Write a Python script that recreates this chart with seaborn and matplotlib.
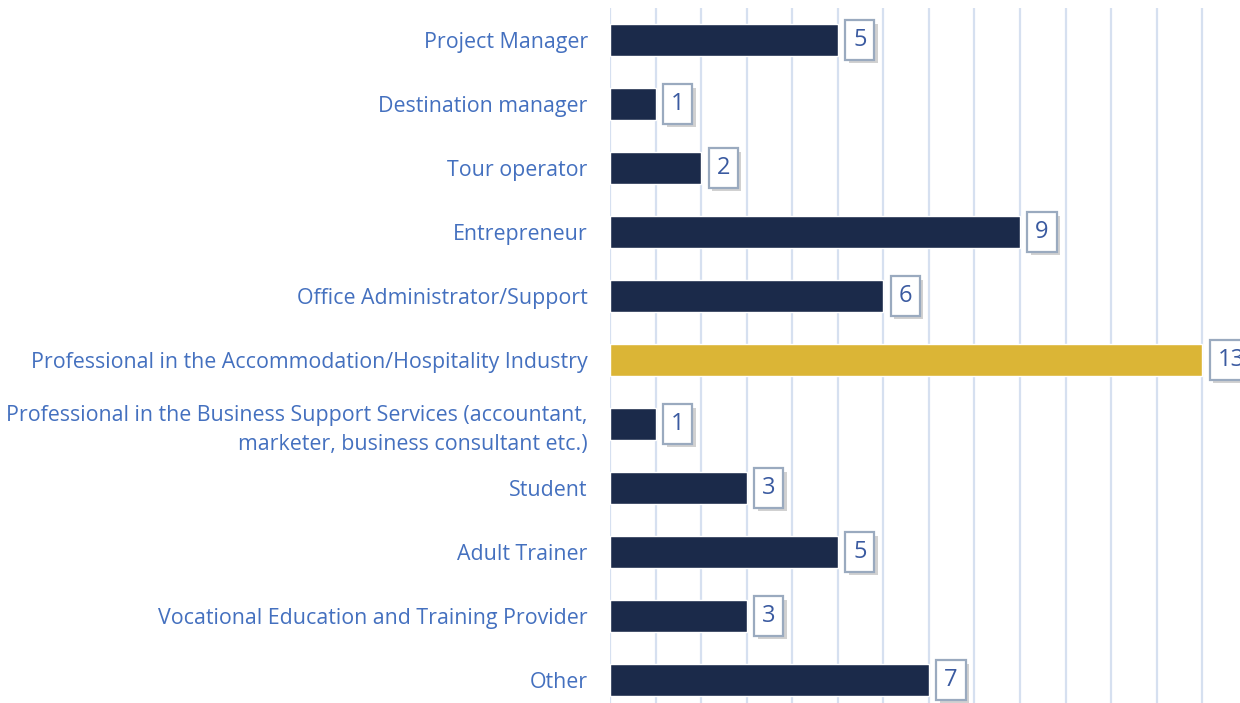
import matplotlib
matplotlib.use('Agg')
import matplotlib.pyplot as plt
import matplotlib.patheffects as pe
import seaborn as sns
import pandas as pd

roles = [
    'Project Manager',
    'Destination manager',
    'Tour operator',
    'Entrepreneur',
    'Office Administrator/Support',
    'Professional in the Accommodation/Hospitality Industry',
    'Professional in the Business Support Services (accountant,\nmarketer, business consultant etc.)',
    'Student',
    'Adult Trainer',
    'Vocational Education and Training Provider',
    'Other',
]
counts = [5, 1, 2, 9, 6, 13, 1, 3, 5, 3, 7]

navy = '#1b2a4a'
gold = '#dbb536'
bar_colors = [gold if c == max(counts) else navy for c in counts]

df = pd.DataFrame({'role': roles, 'count': counts})

sns.set_style('white')
plt.rcParams['font.family'] = ['Open Sans', 'DejaVu Sans']

fig = plt.figure(figsize=(12.4, 7.03), dpi=100)
ax = fig.add_axes([610 / 1240, 0, 630 / 1240, 695 / 703])

sns.barplot(data=df, x='count', y='role', hue='role', palette=bar_colors,
            legend=False, width=0.5, ax=ax, saturation=1)

# ticks first, otherwise they stretch the limits out to 14
ax.set_xticks(range(0, 15))
ax.set_xlim(0, 630 / 45.55)
ax.set_ylim(len(roles) - 1 + 0.36, -0.5)
ax.grid(axis='x', color='#d6e0f0', linewidth=1.6)
ax.set_axisbelow(True)
for s in ax.spines.values():
    s.set_visible(False)
ax.set_xlabel('')
ax.set_ylabel('')
ax.tick_params(axis='x', length=0, labelbottom=False)
ax.tick_params(axis='y', length=0, pad=16, labelsize=15.4, labelcolor='#4470bf')
for lbl in ax.get_yticklabels():
    lbl.set_multialignment('right')
    lbl.set_linespacing(1.45)

for i, c in enumerate(counts):
    t = ax.annotate(str(c), xy=(c, i), xytext=(11, 0), textcoords='offset points',
                    ha='left', va='center', fontsize=17, color='#3a5aa0',
                    bbox=dict(boxstyle='square,pad=0.33', fc='white', ec='#9aaabf', lw=1.6),
                    annotation_clip=False)
    t.get_bbox_patch().set_path_effects([
        pe.SimplePatchShadow(offset=(2.5, -2.5), shadow_rgbFace='#9a9a9a', alpha=0.45),
        pe.Normal()])

fig.savefig('out.png', dpi=100)
